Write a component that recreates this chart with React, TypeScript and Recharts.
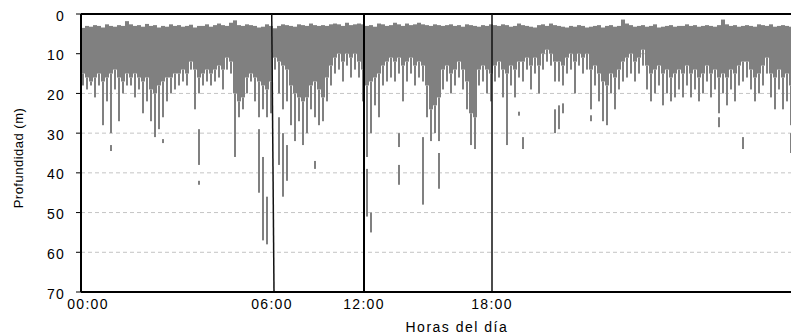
import React from "react";
import {
  BarChart,
  Bar,
  XAxis,
  YAxis,
  CartesianGrid,
  ReferenceLine,
  Label,
} from "recharts";

// profundidad (m) donde empieza el registro, una columna por muestra
const topDepth = [
  3.5, 3, 3.2, 2.8, 3, 3.4, 2.6, 3, 3.2, 2.8, 3, 1.8, 2.6, 3, 2.8, 3.2, 2.5, 3, 2.8, 3.4, 3, 3.2, 2.6, 3, 2.8, 3.2, 3, 2.7, 3.4, 3,
  3, 2.6, 3.2, 2.8, 2.4, 2.8, 3, 2.2, 1.6, 2.8, 3, 2.6, 2.8, 3, 3.4, 3.2, 2.6, 3, 3.6, 3, 2.6, 2.8, 3, 3.2, 2.6, 2.8, 3, 2.4, 2.8, 3,
  2.8, 3, 2.6, 2.4, 2.6, 3, 2.2, 2.8, 2.6, 2.4, 2.6, 3, 2.8, 3.2, 2.4, 2.6, 3, 2.8, 2.2, 2.6, 3, 2.4, 2.8, 2.6, 2.2, 2.6, 2.8, 3, 2.6, 2.8,
  3, 2.8, 2.6, 3, 2.8, 3.2, 2.6, 2.8, 3, 3.2, 2.8, 3, 2.6, 2.8, 3, 2.6, 2.8, 3.2, 3, 2.4, 2.8, 3, 3.2, 3.4, 2.8, 2.6, 3, 2.4, 2.8, 3,
  3.2, 3.4, 3, 3.2, 2.8, 3, 3.4, 3.2, 3, 2.8, 3.4, 3, 2.8, 3.2, 3, 1.4, 2.4, 2.8, 3.2, 3, 2.8, 3.2, 3, 2.6, 3.4, 3.2, 3, 2.8, 3.2, 3,
  3, 2.6, 3, 2.8, 3.2, 3, 2.8, 3, 3.2, 2.8, 1.4, 2.6, 3, 2.8, 3.2, 3, 2.8, 3, 3.2, 2.6, 2.8, 3, 2.6, 3.2, 3, 2.8, 3, 3.2, 3,
];

// fondo de la banda densa
const coreDepth = [
  15, 16, 17, 16, 15, 17, 16, 15, 14, 16, 17, 15, 16, 15, 16, 17, 16, 19, 20, 18, 17, 16, 16, 15, 15, 14, 15, 12, 14, 16,
  15, 14, 15, 14, 13, 14, 11, 12, 20, 22, 21, 16, 15, 16, 17, 18, 19, 17, 11, 12, 13, 14, 18, 20, 21, 22, 21, 18, 17, 19,
  21, 16, 13, 11, 10, 12, 10, 11, 10, 12, 14, 18, 17, 16, 15, 13, 12, 11, 12, 11, 13, 12, 11, 13, 12, 13, 18, 24, 23, 21,
  14, 13, 15, 14, 12, 14, 17, 25, 26, 14, 13, 14, 15, 13, 12, 14, 15, 13, 14, 12, 12, 11, 13, 11, 13, 10, 9, 10, 12, 12,
  13, 11, 10, 12, 10, 11, 10, 14, 13, 15, 17, 18, 15, 16, 14, 12, 11, 10, 12, 11, 9, 13, 15, 14, 13, 15, 14, 16, 15, 14,
  15, 13, 15, 14, 16, 15, 13, 15, 14, 16, 15, 16, 14, 15, 13, 12, 12, 14, 16, 15, 13, 11, 15, 16, 14, 16, 15, 18, 17,
];

// fondo de los filamentos que bajan de la banda
const bottomDepth = [
  18, 19, 18, 21, 18, 28, 22, 30, 19, 27, 20, 18, 18, 21, 19, 25, 22, 27, 31, 29, 26, 22, 20, 19, 18, 17, 18, 14, 24, 20,
  18, 17, 18, 17, 16, 19, 14, 15, 36, 26, 24, 20, 17, 22, 26, 24, 26, 25, 14, 20, 24, 22, 28, 32, 27, 33, 30, 24, 26, 28,
  27, 22, 18, 15, 14, 17, 13, 16, 14, 16, 22, 36, 30, 23, 26, 18, 17, 16, 17, 15, 22, 17, 15, 18, 16, 17, 26, 32, 30, 32,
  19, 17, 20, 18, 16, 19, 24, 33, 34, 18, 17, 20, 22, 17, 16, 21, 33, 18, 21, 16, 17, 14, 19, 15, 20, 14, 12, 13, 17, 17,
  18, 15, 14, 20, 13, 15, 14, 24, 18, 22, 27, 28, 20, 24, 19, 17, 16, 15, 17, 15, 13, 19, 22, 20, 18, 23, 20, 22, 21, 19,
  21, 18, 21, 19, 22, 20, 17, 21, 19, 25, 20, 23, 19, 22, 18, 17, 16, 19, 22, 20, 18, 15, 21, 24, 19, 24, 22, 28, 25,
];

// registros aislados más profundos (columna, desde, hasta)
const deepSegments = [
  { i: 7, from: 33, to: 34.5 },
  { i: 20, from: 31.5, to: 32.5 },
  { i: 29, from: 29, to: 38 },
  { i: 29, from: 42, to: 43 },
  { i: 44, from: 29, to: 45 },
  { i: 45, from: 36, to: 57 },
  { i: 46, from: 46, to: 58 },
  { i: 49, from: 26, to: 38 },
  { i: 50, from: 30, to: 46 },
  { i: 51, from: 33, to: 42 },
  { i: 58, from: 37, to: 39 },
  { i: 71, from: 39, to: 51 },
  { i: 72, from: 50, to: 55 },
  { i: 79, from: 30, to: 33.5 },
  { i: 79, from: 38, to: 43 },
  { i: 85, from: 31, to: 48 },
  { i: 89, from: 35, to: 44 },
  { i: 109, from: 24.6, to: 25.6 },
  { i: 110, from: 31, to: 34 },
  { i: 118, from: 24, to: 30 },
  { i: 119, from: 23, to: 29 },
  { i: 120, from: 22.5, to: 25 },
  { i: 127, from: 25.5, to: 27 },
  { i: 159, from: 26, to: 28.5 },
  { i: 165, from: 31, to: 34 },
  { i: 177, from: 30, to: 35 },
];

const hourTicks = [1.75, 47.75, 70.75, 102.75];
const hourLabels = ["00:00", "06:00", "12:00", "18:00"];
const depthTicks = [0, 10, 20, 30, 40, 50, 60, 70];

const FONT = "'Liberation Sans', Arial, sans-serif";
const GRAY = "#808080";

const data = topDepth.map((top, i) => {
  const segs = deepSegments.filter((s) => s.i === i);
  const d1 = segs[0];
  const d2 = segs[1];
  const bottom = bottomDepth[i];
  const d1End = d1 ? d1.to : bottom;
  return {
    x: i + 0.5,
    gap0: top,
    core: coreDepth[i] - top,
    tail: bottom - coreDepth[i],
    gap1: d1 ? d1.from - bottom : 0,
    deep1: d1 ? d1.to - d1.from : 0,
    gap2: d2 ? d2.from - d1End : 0,
    deep2: d2 ? d2.to - d2.from : 0,
  };
});

// banda densa: cubre la columna completa (4 px) sin huecos entre columnas
const FullBar = (props: any) => {
  const { x, y, width, height, fill } = props;
  if (!height) return null;
  const h = Math.abs(height);
  const yy = height < 0 ? y + height : y;
  const cx = x + width / 2;
  return <rect x={Math.round(cx - 2)} y={yy} width={4} height={h} fill={fill} />;
};

// filamento angosto centrado en la columna
const ThinBar = (props: any) => {
  const { x, y, width, height, fill } = props;
  if (!height) return null;
  const h = Math.abs(height);
  const yy = height < 0 ? y + height : y;
  const cx = x + width / 2;
  return <rect x={Math.round(cx - 1)} y={yy} width={2} height={h} fill={fill} />;
};

const XTick = (props: any) => {
  const { x, y, payload } = props;
  const idx = hourTicks.indexOf(payload.value);
  return (
    <text
      x={x}
      y={y}
      dy={9}
      textAnchor="middle"
      fontSize={14}
      fill="#000"
      style={{ letterSpacing: 1.3, fontFamily: FONT }}
    >
      {hourLabels[idx]}
    </text>
  );
};

const YTick = (props: any) => {
  const { x, y, payload } = props;
  return (
    <text
      x={x}
      y={y}
      dy={6.5}
      textAnchor="end"
      fontSize={14}
      fill="#000"
      style={{ letterSpacing: 1.2, fontFamily: FONT }}
    >
      {payload.value}
    </text>
  );
};

export default function App() {
  return (
    <div style={{ width: 791, height: 333, marginTop: -6, fontFamily: FONT }}>
      <BarChart
        width={791}
        height={333}
        data={data}
        margin={{ top: 12, right: 2, bottom: 0, left: 0 }}
        barGap={0}
        barCategoryGap={0}
      >
        <CartesianGrid
          horizontal
          vertical={false}
          stroke="#c4c4c4"
          strokeDasharray="4 3"
        />
        <XAxis
          type="number"
          dataKey="x"
          domain={[0, 179]}
          ticks={hourTicks}
          interval={0}
          tick={<XTick />}
          tickLine={false}
          axisLine={{ stroke: "#000", strokeWidth: 2 }}
          height={43}
          allowDataOverflow
        >
          <Label
            content={(p: any) => {
              const vb = p.viewBox;
              return (
                <text
                  x={vb.x + vb.width * 0.525}
                  y={vb.y + vb.height - 3}
                  textAnchor="middle"
                  fontSize={14}
                  fill="#000"
                  style={{ letterSpacing: 1.5, fontFamily: FONT }}
                >
                  Horas del día
                </text>
              );
            }}
          />
        </XAxis>
        <YAxis
          type="number"
          domain={[0, 70]}
          reversed
          ticks={depthTicks}
          interval={0}
          tick={<YTick />}
          tickSize={5}
          tickMargin={11}
          tickLine={{ stroke: "#000" }}
          axisLine={{ stroke: "#000", strokeWidth: 2 }}
          width={73}
          allowDataOverflow
        >
          <Label
            content={(p: any) => {
              const vb = p.viewBox;
              const cx = 10;
              const cy = vb.y + vb.height / 2 + 5;
              return (
                <text
                  x={cx}
                  y={cy}
                  transform={`rotate(-90 ${cx} ${cy})`}
                  textAnchor="middle"
                  dominantBaseline="central"
                  fontSize={13}
                  fill="#000"
                  style={{ letterSpacing: 0.5, fontFamily: FONT }}
                >
                  Profundidad (m)
                </text>
              );
            }}
          />
        </YAxis>

        <Bar dataKey="gap0" stackId="a" fill="transparent" barSize={4} isAnimationActive={false} />
        <Bar dataKey="core" stackId="a" fill={GRAY} barSize={4} shape={<FullBar />} isAnimationActive={false} />
        <Bar dataKey="tail" stackId="a" fill={GRAY} barSize={4} shape={<ThinBar />} isAnimationActive={false} />
        <Bar dataKey="gap1" stackId="a" fill="transparent" barSize={4} isAnimationActive={false} />
        <Bar dataKey="deep1" stackId="a" fill={GRAY} barSize={4} shape={<ThinBar />} isAnimationActive={false} />
        <Bar dataKey="gap2" stackId="a" fill="transparent" barSize={4} isAnimationActive={false} />
        <Bar dataKey="deep2" stackId="a" fill={GRAY} barSize={4} shape={<ThinBar />} isAnimationActive={false} />

        <ReferenceLine y={0} stroke="#000" strokeWidth={2} />
        <ReferenceLine
          segment={[
            { x: 47.68, y: 0 },
            { x: 48.25, y: 70 },
          ]}
          stroke="#111"
          strokeWidth={1.5}
        />
        <ReferenceLine x={70.75} stroke="#000" strokeWidth={2} />
        <ReferenceLine x={102.75} stroke="#111" strokeWidth={1.5} />
      </BarChart>
    </div>
  );
}
